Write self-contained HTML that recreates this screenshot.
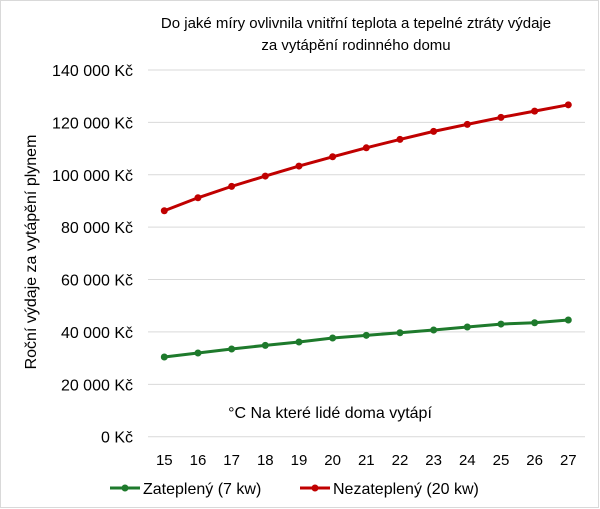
<!DOCTYPE html>
<html><head><meta charset="utf-8"><style>
body{margin:0;background:#fff}
svg{display:block;font-family:"Liberation Sans",sans-serif}
</style></head><body>
<svg id="chart" width="600" height="509">
<rect x="0.5" y="0.5" width="598" height="507" fill="#fff" stroke="#d9d9d9"/>
<text x="356" y="28" font-size="15" text-anchor="middle" fill="#000">Do jaké míry ovlivnila vnitřní teplota a tepelné ztráty výdaje</text>
<text x="356" y="50" font-size="15" text-anchor="middle" fill="#000">za vytápění  rodinného domu</text>
<text transform="translate(36,252) rotate(-90)" font-size="16" text-anchor="middle" fill="#000">Roční výdaje za vytápění plynem</text>
<text x="330" y="418" font-size="16" text-anchor="middle" fill="#000">°C Na které lidé doma vytápí</text>
<g id="grid"></g><g id="yt"></g><g id="xt"></g><g id="series"></g>
<g>
<line x1="110" y1="488" x2="140" y2="488" stroke="#1e7a2c" stroke-width="3"/><circle cx="125" cy="488" r="3.5" fill="#1e7a2c"/>
<text x="143" y="494" font-size="16">Zateplený (7 kw)</text>
<line x1="300" y1="488" x2="330" y2="488" stroke="#c00000" stroke-width="3"/><circle cx="315" cy="488" r="3.5" fill="#c00000"/>
<text x="333" y="494" font-size="16">Nezateplený (20 kw)</text>
</g>
</svg>
<script>
const categories=[15,16,17,18,19,20,21,22,23,24,25,26,27];
const zateplenyValues=[30420,31950,33480,34880,36150,37680,38700,39700,40730,41870,43000,43510,44540];
const nezateplenyValues=[86260,91220,95570,99500,103320,106870,110300,113500,116560,119240,121900,124300,126700];
const yTickValues=[0,20000,40000,60000,80000,100000,120000,140000];
const yTickLabels=["0 Kč","20 000 Kč","40 000 Kč","60 000 Kč","80 000 Kč","100 000 Kč","120 000 Kč","140 000 Kč"];
const NS="http://www.w3.org/2000/svg";
const y0=436.7,yTop=70,x0=164.3,x1=568.3,left=148,right=585;
const yScale=v=>y0-(v/140000)*(y0-yTop);
const xScale=i=>x0+i*(x1-x0)/(categories.length-1);
function mk(t,a,p){const e=document.createElementNS(NS,t);for(const k in a)e.setAttribute(k,a[k]);p.appendChild(e);return e;}
const grid=document.getElementById('grid'),yt=document.getElementById('yt'),xt=document.getElementById('xt'),ser=document.getElementById('series');
yTickValues.forEach((v,i)=>{
 const l=mk('line',{x1:left,x2:right,y1:yScale(v),y2:yScale(v),stroke:'#d9d9d9','stroke-width':1},grid);
 
 
 const t=mk('text',{x:133,y:yScale(v)+6,'font-size':16,'text-anchor':'end',fill:'#000'},yt);
 t.textContent=yTickLabels[i];
 
 
});
categories.forEach((c,i)=>{
 const t=mk('text',{x:xScale(i),y:465,'font-size':15,'text-anchor':'middle',fill:'#000'},xt);
 t.textContent=c;
 
 
});
function series(vals,color,name){
 const g=mk('g',{},ser);
 
 
 const pl=mk('polyline',{points:vals.map((v,i)=>xScale(i)+','+yScale(v)).join(' '),fill:'none',stroke:color,'stroke-width':3,'stroke-linejoin':'round'},g);
 
 
 vals.forEach((v,i)=>{
  const c=mk('circle',{cx:xScale(i),cy:yScale(v),r:3.5,fill:color},g);
  
  
 });
}
series(zateplenyValues,'#1e7a2c','series-zatepleny');
series(nezateplenyValues,'#c00000','series-nezatepleny');
</script>
</body></html>
